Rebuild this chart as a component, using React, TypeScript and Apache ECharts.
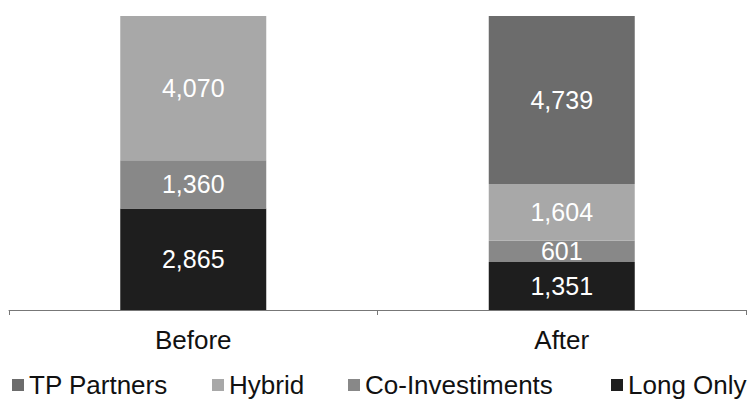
import React, { useEffect, useRef } from "react";
import * as echarts from "echarts";

const categories = ["Before", "After"];
const longOnly = [2865, 1351];
const coInvestiments = [1360, 601];
const hybrid = [4070, 1604];
const tpPartners: (number | null)[] = [null, 4739];

const legendNames = ["TP Partners", "Hybrid", "Co-Investiments", "Long Only"];
const legendLeft = [12, 212, 348, 611];

const FONT = "'Liberation Sans', Arial, Helvetica, sans-serif";

const colors: Record<string, string> = {
  "Long Only": "#1e1e1e",
  "Co-Investiments": "#888888",
  Hybrid: "#a8a8a8",
  "TP Partners": "#6c6c6c",
};

const fmt = (v: number) => v.toLocaleString("en-US");

export default function App() {
  const ref = useRef<HTMLDivElement>(null);

  useEffect(() => {
    if (!ref.current) return;
    const chart = echarts.init(ref.current, undefined, { renderer: "svg" });

    // stacked bottom to top
    const seriesDefs: [string, (number | null)[]][] = [
      ["Long Only", longOnly],
      ["Co-Investiments", coInvestiments],
      ["Hybrid", hybrid],
      ["TP Partners", tpPartners],
    ];

    chart.setOption({
      animation: false,
      backgroundColor: "#ffffff",
      textStyle: { fontFamily: FONT },
      // one legend per entry so each sits at its own x position
      legend: legendNames.map((name, i) => ({
        data: [name],
        left: legendLeft[i],
        top: 372,
        padding: 0,
        itemWidth: 12,
        itemHeight: 12,
        icon: "rect",
        selectedMode: false,
        textStyle: { fontSize: 26, color: "#111", fontFamily: FONT },
      })),
      grid: { left: 9, right: 2, top: 16, bottom: 93, containLabel: false },
      xAxis: {
        type: "category",
        data: categories,
        axisLine: { lineStyle: { color: "#777", width: 1 } },
        axisTick: { show: true, length: 5, lineStyle: { color: "#777" } },
        axisLabel: { fontSize: 26, color: "#111", margin: 17, fontFamily: FONT },
      },
      yAxis: {
        type: "value",
        min: 0,
        max: 8295,
        show: false,
        splitLine: { show: false },
      },
      series: seriesDefs.map(([name, data]) => ({
        name,
        type: "bar",
        stack: "total",
        data,
        barWidth: 146,
        itemStyle: { color: colors[name] },
        label: {
          show: true,
          position: "inside",
          color: "#ffffff",
          fontSize: 25,
          fontFamily: FONT,
          formatter: (p: any) => (p.value == null ? "" : fmt(p.value)),
        },
      })),
    });

    return () => chart.dispose();
  }, []);

  return (
    <div
      ref={ref}
      style={{ position: "fixed", left: 0, top: 0, width: 748, height: 403 }}
    />
  );
}
